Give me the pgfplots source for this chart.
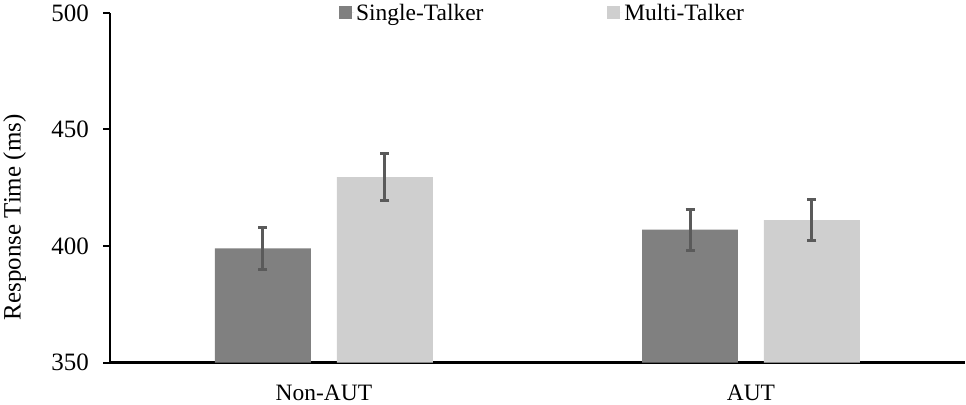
\documentclass[border=0pt]{standalone}
\usepackage{fontspec}
\setmainfont{Liberation Serif}
\usepackage{pgfplots}
\pgfplotsset{compat=1.18}
\definecolor{single}{RGB}{128,128,128}
\definecolor{multi}{RGB}{207,207,207}
\definecolor{errc}{RGB}{90,90,90}
\begin{document}
\begin{tikzpicture}
\begin{axis}[
  scale only axis,
  width=855bp, height=350bp,
  xmin=-0.5, xmax=1.5,
  ymin=350, ymax=500,
  ytick={350,400,450,500},
  xtick={0,1},
  xticklabels={Non-AUT,AUT},
  major x tick style={draw=none},
  ybar=26bp, bar width=96bp,
  axis x line*=bottom, axis y line*=left,
  x axis line style={-, line width=3bp, black},
  y axis line style={-, line width=2bp, black},
  tick align=outside,
  major tick length=7bp,
  ytick style={black, line width=2bp},
  /pgf/number format/assume math mode=true,
  xticklabel style={font=\fontsize{23.5bp}{28bp}\selectfont, yshift=-12bp},
  yticklabel style={font=\fontsize{25bp}{30bp}\selectfont, xshift=-11bp},
  ylabel={Response Time (ms)},
  ylabel style={font=\fontsize{25bp}{30bp}\selectfont, at={(axis description cs:-0.112,0.415)}, anchor=center},
  legend columns=2,
  legend style={draw=none, fill=none, at={(axis description cs:0.506,1.0)}, anchor=center,
    font=\fontsize{23.5bp}{28bp}\selectfont,
    /tikz/every even column/.append style={column sep=122bp}},
  legend image code/.code={\fill[#1] (0bp,-6.5bp) rectangle (13bp,6.5bp); \path (0bp,0bp) -- (15bp,0bp);},
  error bars/y dir=both, error bars/y explicit,
  error bars/error bar style={line width=3bp, draw=errc},
  error bars/error mark options={line width=3.2bp, draw=errc, mark size=4.5bp, rotate=90},
]
\addplot[fill=single, draw=none] coordinates {(0,399.0) +- (0,9.1) (1,407.0) +- (0,8.8)};
\addplot[fill=multi, draw=none] coordinates {(0,429.5) +- (0,10.1) (1,411.1) +- (0,8.8)};
\legend{Single-Talker,Multi-Talker}
\end{axis}
\end{tikzpicture}
\end{document}
